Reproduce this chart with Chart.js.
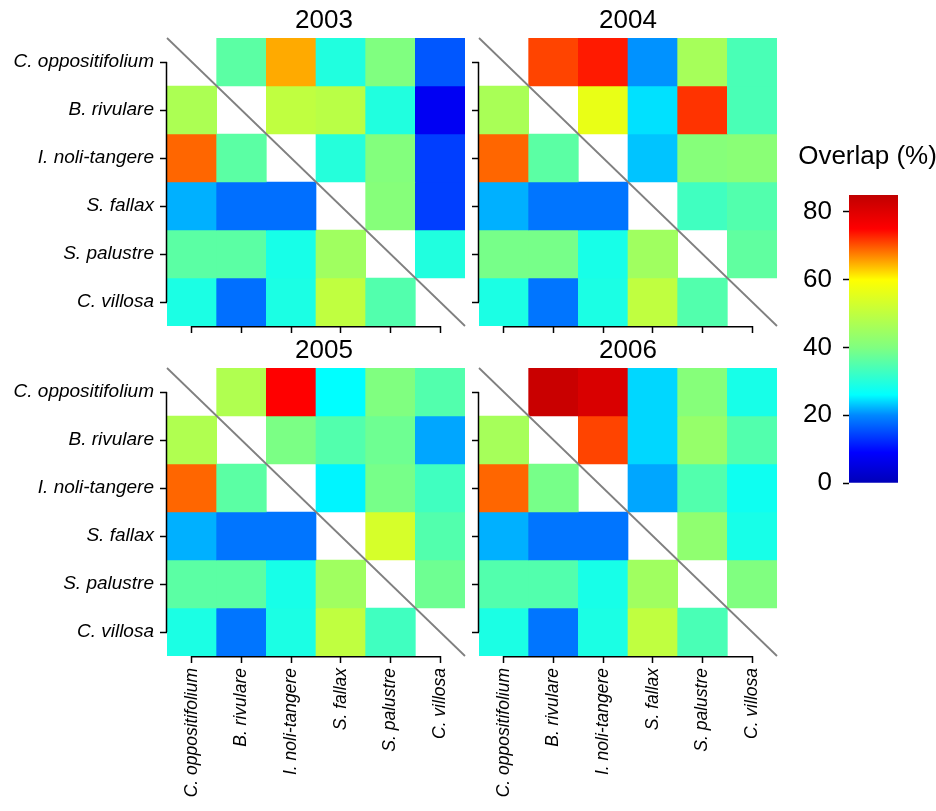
<!DOCTYPE html>
<html>
<head>
<meta charset="utf-8">
<title>Overlap heatmaps</title>
<script src="https://cdn.jsdelivr.net/npm/chart.js@4.4.1/dist/chart.umd.min.js"></script>
<style>
    html, body { margin: 0; padding: 0; background: #fff; }
    #figure { position: relative; width: 936px; height: 811px; overflow: hidden; }
    #figure canvas { position: absolute; left: 0; top: 0; }
</style>
</head>
<body>
<div id="figure">
    <canvas id="panel2003" width="936" height="811"></canvas>
    <canvas id="panel2004" width="936" height="811"></canvas>
    <canvas id="panel2005" width="936" height="811"></canvas>
    <canvas id="panel2006" width="936" height="811"></canvas>
    <canvas id="colourBar" width="936" height="811"></canvas>
</div>
<script>
// Species order (rows top to bottom, columns left to right)
const species = ['C. oppositifolium', 'B. rivulare', 'I. noli-tangere', 'S. fallax', 'S. palustre', 'C. villosa'];
const years = ['2003', '2004', '2005', '2006'];

// Overlap (%) per row species / column species, null on the diagonal
const overlap2003 = [
    [null, 36, 65, 29.5, 40, 16],
    [47, null, 50, 49, 29.5, 7.5],
    [69, 36, null, 30, 40.5, 14],
    [22, 18, 18, null, 41, 14],
    [36, 36, 28.5, 45, null, 29.5],
    [29, 18, 29, 50, 35, null]
];
const overlap2004 = [
    [null, 71, 73.5, 20.5, 46, 34],
    [46.5, null, 56.5, 24.5, 72, 34],
    [69, 36, null, 23, 41, 41.5],
    [22, 18.5, 18.5, null, 33, 35],
    [39, 39, 28.5, 45, null, 36.5],
    [29, 18.5, 29, 50, 35, null]
];
const overlap2005 = [
    [null, 47.5, 75, 26, 40, 35],
    [47.5, null, 39.5, 35, 38, 21.5],
    [69, 36, null, 25.5, 39, 33],
    [22, 18.5, 18.5, null, 53.5, 35],
    [36, 36, 28.5, 45, null, 38],
    [29, 18.5, 29, 50, 33, null]
];
const overlap2006 = [
    [null, 83.5, 81, 24, 41, 28.5],
    [46, null, 71, 24, 43.5, 35],
    [69, 39, null, 21.5, 35, 27.5],
    [22, 18.5, 18.5, null, 42.5, 28.5],
    [35, 35, 28.5, 45, null, 40],
    [29, 18.5, 29, 50, 34, null]
];

// Colour scale
const colourStops = [0, 9, 20, 26, 40, 60, 75, 85];
const colourRamp = ['#0000b8', '#0000ff', '#0088ff', '#00ffff', '#80ff80', '#ffff00', '#ff0000', '#c00000'];
const colourTicks = [0, 20, 40, 60, 80];
const colourTitle = 'Overlap (%)';

const FONT = '"Liberation Sans", Arial, Helvetica, sans-serif';

// Where each panel's grid sits on the page
const panelBoxes = {
    '2003': { left: 167, top: 38, right: 465, bottom: 326, titleShift: 8, yLabels: true, xLabels: false },
    '2004': { left: 479, top: 38, right: 777, bottom: 326, titleShift: 0, yLabels: false, xLabels: false },
    '2005': { left: 167, top: 368, right: 465, bottom: 656, titleShift: 8, yLabels: true, xLabels: true },
    '2006': { left: 479, top: 368, right: 777, bottom: 656, titleShift: 0, yLabels: false, xLabels: true }
};
const panelData = { '2003': overlap2003, '2004': overlap2004, '2005': overlap2005, '2006': overlap2006 };

function hexToRgb(hex) {
    const n = parseInt(hex.slice(1), 16);
    return [(n >> 16) & 255, (n >> 8) & 255, n & 255];
}

function colourFor(v) {
    const last = colourStops.length - 1;
    if (v <= colourStops[0]) return colourRamp[0];
    if (v >= colourStops[last]) return colourRamp[last];
    let i = 0;
    while (v > colourStops[i + 1]) i++;
    const t = (v - colourStops[i]) / (colourStops[i + 1] - colourStops[i]);
    const a = hexToRgb(colourRamp[i]);
    const b = hexToRgb(colourRamp[i + 1]);
    const c = a.map((x, k) => Math.round(x + (b[k] - x) * t));
    return `rgb(${c[0]},${c[1]},${c[2]})`;
}

// Diagonal, R-style axis lines and the year title
const panelDecor = {
    id: 'panelDecor',
    afterDraw(chart, args, opts) {
        const { ctx, chartArea: a, scales } = chart;
        ctx.save();
        ctx.strokeStyle = '#808080';
        ctx.lineWidth = 1.8;
        ctx.beginPath();
        ctx.moveTo(a.left, a.top);
        ctx.lineTo(a.right, a.bottom);
        ctx.stroke();

        ctx.strokeStyle = '#000';
        ctx.lineWidth = 1.5;
        ctx.beginPath();
        ctx.moveTo(a.left - 0.5, scales.y.getPixelForValue(0.5));
        ctx.lineTo(a.left - 0.5, scales.y.getPixelForValue(species.length - 0.5));
        ctx.moveTo(scales.x.getPixelForValue(0), a.bottom + 0.75);
        ctx.lineTo(scales.x.getPixelForValue(species.length - 1), a.bottom + 0.75);
        ctx.stroke();

        ctx.fillStyle = '#000';
        ctx.font = `26px ${FONT}`;
        ctx.textAlign = 'center';
        ctx.textBaseline = 'middle';
        ctx.fillText(opts.title, (a.left + a.right) / 2 + opts.shift, a.top - 17);
        ctx.restore();
    }
};

function makePanel(year) {
    const box = panelBoxes[year];
    const values = panelData[year];
    const xHeight = 150;

    const datasets = values.map((row, r) => ({
        data: row.map(v => v === null ? null : [r, r + 1]),
        backgroundColor: row.map(v => v === null ? 'rgba(0,0,0,0)' : colourFor(v)),
        borderWidth: 0,
        barPercentage: 1,
        categoryPercentage: 1,
        grouped: false
    }));

    return new Chart(document.getElementById('panel' + year), {
        type: 'bar',
        data: { labels: species, datasets: datasets },
        options: {
            responsive: false,
            animation: false,
            events: [],
            layout: {
                padding: { left: 0, top: box.top, right: 936 - box.right, bottom: 811 - box.bottom - xHeight }
            },
            plugins: {
                legend: { display: false },
                tooltip: { enabled: false },
                panelDecor: { title: year, shift: box.titleShift }
            },
            scales: {
                x: {
                    type: 'category',
                    offset: true,
                    border: { display: false },
                    grid: { offset: false, drawOnChartArea: false, tickLength: 7, tickWidth: 1.5, tickColor: '#000' },
                    ticks: {
                        display: box.xLabels,
                        autoSkip: false,
                        maxRotation: 90,
                        minRotation: 90,
                        padding: 5,
                        color: '#000',
                        font: { family: FONT, size: 17.5, style: 'italic' }
                    },
                    afterFit: s => { s.height = xHeight; }
                },
                y: {
                    type: 'linear',
                    min: 0,
                    max: species.length,
                    reverse: true,
                    afterBuildTicks: s => { s.ticks = species.map((_, i) => ({ value: i + 0.5 })); },
                    border: { display: false },
                    grid: { drawOnChartArea: false, tickLength: 7, tickWidth: 1.5, tickColor: '#000' },
                    ticks: {
                        display: box.yLabels,
                        autoSkip: false,
                        padding: 6,
                        color: '#000',
                        font: { family: FONT, size: 19, style: 'italic' },
                        callback: v => species[Math.floor(v)]
                    },
                    afterFit: s => { s.width = box.left; }
                }
            }
        },
        plugins: [panelDecor]
    });
}

const barTitle = {
    id: 'barTitle',
    afterDraw(chart) {
        const { ctx, chartArea: a } = chart;
        ctx.save();
        ctx.fillStyle = '#000';
        ctx.font = `26px ${FONT}`;
        ctx.textAlign = 'center';
        ctx.textBaseline = 'middle';
        ctx.fillText(colourTitle, (a.left + a.right) / 2 - 6, a.top - 38);
        ctx.restore();
    }
};

function makeColourBar() {
    const maxVal = colourStops[colourStops.length - 1];
    return new Chart(document.getElementById('colourBar'), {
        type: 'bar',
        data: {
            labels: [''],
            datasets: [{
                data: [[0, maxVal]],
                backgroundColor: (c) => {
                    const chart = c.chart;
                    if (!chart.chartArea) return colourRamp[0];
                    const y = chart.scales.y;
                    const g = chart.ctx.createLinearGradient(0, y.getPixelForValue(0), 0, y.getPixelForValue(maxVal));
                    colourStops.forEach((s, i) => g.addColorStop(s / maxVal, colourRamp[i]));
                    return g;
                },
                borderWidth: 0,
                barPercentage: 1,
                categoryPercentage: 1
            }]
        },
        options: {
            responsive: false,
            animation: false,
            events: [],
            layout: { padding: { left: 0, top: 195, right: 936 - 898, bottom: 811 - 483 } },
            plugins: { legend: { display: false }, tooltip: { enabled: false } },
            scales: {
                x: { display: false },
                y: {
                    min: 0,
                    max: maxVal,
                    afterBuildTicks: s => { s.ticks = colourTicks.map(v => ({ value: v })); },
                    border: { display: false },
                    grid: { drawOnChartArea: false, tickLength: 6, tickWidth: 1.5, tickColor: '#000' },
                    ticks: { padding: 11, color: '#000', font: { family: FONT, size: 26 } },
                    afterFit: s => { s.width = 849; }
                }
            }
        },
        plugins: [barTitle]
    });
}

years.forEach(makePanel);
makeColourBar();
</script>
</body>
</html>
